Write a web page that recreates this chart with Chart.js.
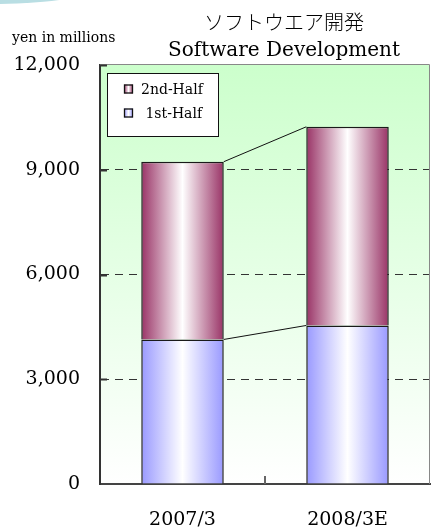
<!DOCTYPE html>
<html lang="ja">
<head>
    <meta charset="UTF-8">
    <title>ソフトウエア開発 Software Development</title>
    <script src="https://cdn.jsdelivr.net/npm/chart.js"></script>
    <style>
        body { margin: 0; background: #fff; }
        .wrap { position: relative; width: 432px; height: 529px; overflow: hidden; }
        .swoosh {
            position: absolute; left: -150px; top: -57px; width: 280px; height: 61px;
            border-radius: 50%; background: #b9dee3;
        }
    </style>
</head>
<body>
    <div class="wrap">
        <canvas id="softChart" width="432" height="529"></canvas>
        <div class="swoosh"></div>
    </div>
    <script>
        // values (yen in millions)
        var categories = ['2007/3', '2008/3E'];
        var firstHalf = [4140, 4540];
        var secondHalf = [5090, 5690];
        var yTicks = [0, 3000, 6000, 9000, 12000];
        var seriesNames = [' 1st-Half', '2nd-Half'];

        var titleJa = 'ソフトウエア開発';
        var titleEn = 'Software Development';
        var unitLabel = 'yen in millions';

        var firstColor = '#9999ff';
        var secondColor = '#993366';

        function barGradient(edge) {
            return function (ctx) {
                var chart = ctx.chart;
                var area = chart.chartArea;
                if (!area || ctx.type !== 'data') return edge;
                var cx = chart.scales.x.getPixelForValue(ctx.dataIndex);
                var half = (area.right - area.left) / categories.length * 0.5 / 2;
                var g = chart.ctx.createLinearGradient(cx - half, 0, cx + half, 0);
                g.addColorStop(0, edge);
                g.addColorStop(0.5, '#ffffff');
                g.addColorStop(1, edge);
                return g;
            };
        }

        var decor = {
            id: 'decor',
            beforeDraw: function (chart) {
                var c = chart.ctx, a = chart.chartArea;
                var g = c.createLinearGradient(0, a.top, 0, a.bottom);
                g.addColorStop(0, '#ccffcc');
                g.addColorStop(1, '#ffffff');
                c.save();
                c.fillStyle = g;
                c.fillRect(a.left, a.top, a.right - a.left, a.bottom - a.top);
                c.restore();
            },
            afterDatasetsDraw: function (chart) {
                // lines joining the tops of each series
                var c = chart.ctx;
                c.save();
                c.strokeStyle = '#111';
                c.lineWidth = 1;
                chart.data.datasets.forEach(function (ds, d) {
                    var els = chart.getDatasetMeta(d).data;
                    for (var i = 0; i < els.length - 1; i++) {
                        var p = els[i], q = els[i + 1];
                        c.beginPath();
                        c.moveTo(p.x + p.width / 2, p.y);
                        c.lineTo(q.x - q.width / 2, q.y);
                        c.stroke();
                    }
                });
                c.restore();
            },
            afterDraw: function (chart) {
                var c = chart.ctx, a = chart.chartArea;
                var xs = chart.scales.x, ys = chart.scales.y;
                c.save();

                // top and right frame
                c.strokeStyle = '#888';
                c.lineWidth = 1;
                c.beginPath();
                c.moveTo(a.left, a.top - 0.5);
                c.lineTo(a.right - 0.5, a.top - 0.5);
                c.lineTo(a.right - 0.5, a.bottom);
                c.stroke();

                // inward ticks on the value axis
                c.strokeStyle = '#333';
                c.lineWidth = 2;
                yTicks.forEach(function (v) {
                    if (v === 0) return;
                    var y = Math.round(ys.getPixelForValue(v)) + 0.5;
                    c.beginPath();
                    c.moveTo(a.left, y);
                    c.lineTo(a.left + 7, y);
                    c.stroke();
                });
                // tick between categories
                c.strokeStyle = '#666';
                for (var i = 0; i < categories.length - 1; i++) {
                    var x = Math.round((xs.getPixelForValue(i) + xs.getPixelForValue(i + 1)) / 2);
                    c.beginPath();
                    c.moveTo(x, a.bottom);
                    c.lineTo(x, a.bottom - 8);
                    c.stroke();
                }

                // legend box
                var lx = 107, ly = 73, lw = 112, lh = 64;
                c.fillStyle = '#fff';
                c.fillRect(lx, ly, lw, lh);
                c.strokeStyle = '#111';
                c.lineWidth = 1;
                c.strokeRect(lx + 0.5, ly + 0.5, lw - 1, lh - 1);
                var rows = [
                    { name: seriesNames[1], color: secondColor, y: 89 },
                    { name: seriesNames[0], color: firstColor, y: 113 }
                ];
                c.font = '14px "DejaVu Serif"';
                c.textBaseline = 'middle';
                c.textAlign = 'left';
                rows.forEach(function (r) {
                    var g = c.createLinearGradient(124, 0, 133, 0);
                    g.addColorStop(0, r.color);
                    g.addColorStop(0.5, '#fff');
                    g.addColorStop(1, r.color);
                    c.fillStyle = g;
                    c.fillRect(124, r.y - 4.5, 9, 9);
                    c.strokeStyle = '#111';
                    c.lineWidth = 1.3;
                    c.strokeRect(124.5, r.y - 4, 8, 8);
                    c.fillStyle = '#000';
                    c.fillText(r.name, 141, r.y + 1);
                });

                // titles
                c.textAlign = 'center';
                c.fillStyle = '#000';
                c.font = '300 20px "Noto Sans CJK JP"';
                c.fillText(titleJa, 284, 22);
                c.font = '20px "DejaVu Serif"';
                c.fillText(titleEn, 284, 51);

                c.textAlign = 'left';
                c.font = '14px "DejaVu Serif"';
                c.fillText(unitLabel, 12, 38);
                c.restore();
            }
        };

        var ctx = document.getElementById('softChart').getContext('2d');
        var softChart = new Chart(ctx, {
            type: 'bar',
            data: {
                labels: categories,
                datasets: [{
                    label: seriesNames[0],
                    data: firstHalf,
                    backgroundColor: barGradient(firstColor),
                    borderColor: '#1a1a1a',
                    borderWidth: 1.5
                }, {
                    label: seriesNames[1],
                    data: secondHalf,
                    backgroundColor: barGradient(secondColor),
                    borderColor: '#1a1a1a',
                    borderWidth: 1.5
                }]
            },
            options: {
                responsive: true,
                maintainAspectRatio: false,
                animation: false,
                layout: { padding: { top: 65, right: 2, bottom: 0, left: 0 } },
                datasets: { bar: { categoryPercentage: 1, barPercentage: 0.5 } },
                plugins: {
                    legend: { display: false },
                    tooltip: { enabled: false }
                },
                scales: {
                    x: {
                        stacked: true,
                        afterFit: function (s) { s.height = 45; },
                        grid: { display: false },
                        border: { display: true, color: '#444', width: 2 },
                        ticks: {
                            color: '#000',
                            padding: 17,
                            font: { family: 'DejaVu Serif', size: 19 }
                        }
                    },
                    y: {
                        stacked: true,
                        min: 0,
                        max: 12000,
                        afterFit: function (s) { s.width = 100; },
                        afterBuildTicks: function (s) {
                            s.ticks = yTicks.map(function (v) { return { value: v }; });
                        },
                        grid: {
                            drawTicks: false,
                            lineWidth: 1,
                            color: function (c) {
                                if (!c.tick) return 'transparent';
                                var v = c.tick.value;
                                return (v === 0 || v === 12000) ? 'transparent' : '#333';
                            }
                        },
                        border: { display: true, color: '#333', width: 2, dash: [8, 6] },
                        ticks: {
                            color: '#000',
                            padding: 20,
                            font: { family: 'DejaVu Serif', size: 19 },
                            callback: function (v) { return v.toLocaleString('en-US'); }
                        }
                    }
                }
            },
            plugins: [decor]
        });
    </script>
</body>
</html>
